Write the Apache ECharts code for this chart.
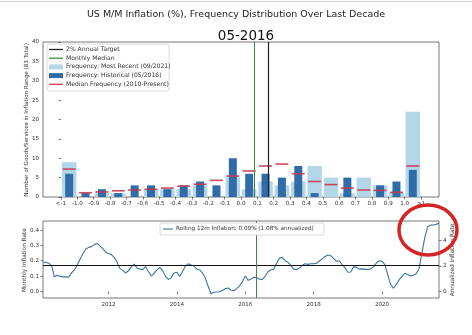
<!DOCTYPE html>
<html><head><meta charset="utf-8">
<script src="https://cdn.jsdelivr.net/npm/echarts@6/dist/echarts.min.js"></script>
<style>html,body{margin:0;padding:0;background:#fff}#c{width:472px;height:335px}</style>
</head><body><div id="c"></div>
<script>
// ---------- data ----------
const binLabels = ['<-1','-1.0','-0.9','-0.8','-0.7','-0.6','-0.5','-0.4','-0.3','-0.2','-0.1','0.0','0.1','0.2','0.3','0.4','0.5','0.6','0.7','0.8','0.9','1.0','>1'];
const recentFreq = [9,0,1,1,0,2,2,2,3,0,5,2,4,3,4,8,5,1,5,3,1,22];
const histFreq   = [6,1,2,1,3,3,2,3,4,3,10,6,6,5,8,1,0,5,0,3,4,7];
const medianFreq = [7.2,1.1,1.3,1.6,1.8,2.0,2.3,2.8,3.3,4.3,5.4,6.7,8.0,8.5,6.0,4.0,3.2,2.3,1.8,1.7,1.2,8.0];
const monthlyMedian = 0.082;   // % m/m
const annualTarget = 0.165;    // % m/m equivalent of 2%/yr
const histDate = 2016 + 4/12;  // May 2016
const yTicksTop = [0,5,10,15,20,25,30,35,40];
const yearTicks = [2012,2014,2016,2018,2020];
const leftTicks = [0,0.1,0.2,0.3,0.4];
const rightTicks = [0,2,4];
const startYear = 2010, startMonth = 2; // Feb 2010
const rolling12m = [
 /*2010 Feb-Dec*/ 0.19,0.19,0.184,0.17,0.095,0.105,0.098,0.095,0.095,0.093,0.12,
 /*2011*/ 0.14,0.17,0.21,0.245,0.275,0.287,0.292,0.305,0.313,0.295,0.28,0.255,
 /*2012*/ 0.247,0.24,0.222,0.19,0.15,0.137,0.12,0.135,0.16,0.178,0.152,0.145,
 /*2013*/ 0.142,0.162,0.13,0.10,0.117,0.14,0.157,0.135,0.098,0.078,0.09,0.12,
 /*2014*/ 0.125,0.098,0.13,0.165,0.18,0.172,0.165,0.145,0.14,0.12,0.085,0.032,
 /*2015*/ -0.015,-0.006,-0.004,-0.002,0.008,0.018,0.022,0.008,0.004,0.018,0.036,0.065,
 /*2016*/ 0.10,0.072,0.08,0.092,0.09,0.08,0.078,0.10,0.128,0.141,0.144,0.184,
 /*2017*/ 0.217,0.222,0.20,0.19,0.17,0.145,0.142,0.152,0.17,0.18,0.176,0.18,
 /*2018*/ 0.18,0.183,0.198,0.212,0.228,0.237,0.233,0.215,0.195,0.20,0.175,0.155,
 /*2019*/ 0.125,0.127,0.16,0.158,0.145,0.147,0.145,0.142,0.147,0.16,0.184,0.20,
 /*2020*/ 0.195,0.175,0.11,0.045,0.022,0.045,0.075,0.098,0.118,0.11,0.10,0.105,
 /*2021 Jan-Sep*/ 0.115,0.15,0.25,0.35,0.42,0.432,0.433,0.437,0.444
];
const titleText = 'US M/M Inflation (%), Frequency Distribution Over Last Decade';
const subTitleText = '05-2016';
const rollingLegend = 'Rolling 12m Inflation: 0.09% (1.08% annualized)';

// ---------- build ----------
const binPos = v => 11 + v * 10; // value (%) -> bin-edge axis position
const lineData = rolling12m.map((v, i) => [startYear + (startMonth - 1 + i) / 12, v]);
const xMin = lineData[0][0], xMax = lineData[lineData.length - 1][0];
const FONT = 'DejaVu Sans';
const tickLbl = {fontSize: 5.6, color: '#333', fontFamily: FONT};
const chart = echarts.init(document.getElementById('c'), null, {renderer: 'canvas'});

const legendItems = [
  {type: 'line', color: '#222', text: '2% Annual Target'},
  {type: 'line', color: '#3d8b3d', text: 'Monthly Median'},
  {type: 'rect', color: '#b3d6e8', text: 'Frequency: Most Recent (09/2021)'},
  {type: 'rect', color: '#2f6ca8', text: 'Frequency: Historical (05/2016)'},
  {type: 'line', color: '#c8394f', text: 'Median Frequency (2010-Present)'}
];
const legendGraphics = [{type: 'rect', shape: {x: 47, y: 44, width: 122, height: 47, r: 2},
  style: {fill: 'rgba(255,255,255,0.85)', stroke: '#d0d0d0', lineWidth: 0.8}, z: 50}];
legendItems.forEach((it, k) => {
  const yc = 49.5 + k * 8.7;
  if (it.type === 'line') legendGraphics.push({type: 'line', shape: {x1: 49, y1: yc, x2: 63, y2: yc}, style: {stroke: it.color, lineWidth: 1.3}, z: 51});
  else legendGraphics.push({type: 'rect', shape: {x: 49, y: yc - 2.5, width: 14, height: 5}, style: {fill: it.color}, z: 51});
  legendGraphics.push({type: 'text', x: 66, y: yc, style: {text: it.text, fontSize: 6.1, fontFamily: FONT, fill: '#333', textVerticalAlign: 'middle'}, z: 51});
});

const option = {
  animation: false,
  backgroundColor: '#fff',
  grid: [
    {left: 43, top: 42, width: 396, height: 155, show: true, borderColor: '#555', borderWidth: 0.8},
    {left: 43, top: 221, width: 396, height: 77, show: true, borderColor: '#555', borderWidth: 0.8}
  ],
  xAxis: [
    {gridIndex: 0, type: 'value', min: -1.1, max: 23.1, axisLine: {show: false}, splitLine: {show: false},
     axisTick: {show: true, customValues: binLabels.map((_, i) => i), length: 2.5, lineStyle: {color: '#444', width: 0.7}},
     axisLabel: Object.assign({customValues: binLabels.map((_, i) => i), formatter: v => binLabels[Math.round(v)], margin: 4}, tickLbl)},
    {gridIndex: 0, type: 'value', min: -1.1, max: 23.1, show: false},
    {gridIndex: 1, type: 'value', min: xMin, max: xMax, axisLine: {show: false}, splitLine: {show: false},
     axisTick: {show: true, customValues: yearTicks, length: 2.5, lineStyle: {color: '#444', width: 0.7}},
     axisLabel: Object.assign({customValues: yearTicks, formatter: v => String(Math.round(v)), margin: 4}, tickLbl)}
  ],
  yAxis: [
    {gridIndex: 0, type: 'value', min: 0, max: 40, axisLine: {show: false}, splitLine: {show: false},
     axisTick: {show: true, customValues: yTicksTop, length: 2.5, lineStyle: {color: '#444', width: 0.7}},
     axisLabel: Object.assign({customValues: yTicksTop, margin: 4}, tickLbl)},
    {gridIndex: 1, type: 'value', min: -0.043, max: 0.459, axisLine: {show: false}, splitLine: {show: false},
     axisTick: {show: true, customValues: leftTicks, length: 2.5, lineStyle: {color: '#444', width: 0.7}},
     axisLabel: Object.assign({customValues: leftTicks, formatter: v => v.toFixed(1), margin: 4}, tickLbl)},
    {gridIndex: 1, type: 'value', position: 'right', min: -0.043 * 12, max: 0.459 * 12, axisLine: {show: false}, splitLine: {show: false},
     axisTick: {show: true, customValues: rightTicks, length: 2.5, lineStyle: {color: '#444', width: 0.7}},
     axisLabel: Object.assign({customValues: rightTicks, formatter: v => String(Math.round(v)), margin: 4}, tickLbl)}
  ],
  title: [
    {text: titleText, left: 'center', top: 5, textStyle: {fontSize: 9.5, fontWeight: 'normal', color: '#222', fontFamily: FONT}},
    {text: subTitleText, left: 241, textAlign: 'center', top: 24, textStyle: {fontSize: 13.5, fontWeight: 'normal', color: '#111', fontFamily: FONT}}
  ],
  series: [
    {type: 'bar', name: 'recent', xAxisIndex: 1, yAxisIndex: 0, barWidth: 14.5,
     data: recentFreq.map((v, i) => [i + 0.5, v]), itemStyle: {color: '#b3d6e8'}, z: 2},
    {type: 'bar', name: 'hist', xAxisIndex: 0, yAxisIndex: 0, barWidth: 8,
     data: histFreq.map((v, i) => [i + 0.5, v]), itemStyle: {color: '#2f6ca8'}, z: 3},
    {type: 'scatter', name: 'median', xAxisIndex: 0, yAxisIndex: 0, symbol: 'rect', symbolSize: [13, 1.6],
     data: medianFreq.map((v, i) => [i + 0.5, v]), itemStyle: {color: '#c8394f', opacity: 0.9}, z: 4,
     markLine: {silent: true, symbol: ['none', 'none'], label: {show: false},
       data: [
         {xAxis: binPos(monthlyMedian), lineStyle: {color: '#3d8b3d', width: 1, type: 'solid'}},
         {xAxis: binPos(annualTarget), lineStyle: {color: '#222', width: 1.2, type: 'solid'}}
       ]}},
    {type: 'line', name: 'rolling', xAxisIndex: 2, yAxisIndex: 1, data: lineData, showSymbol: false,
     lineStyle: {color: '#3b74a6', width: 1.1}, z: 3,
     markLine: {silent: true, symbol: ['none', 'none'], label: {show: false},
       data: [
         {yAxis: annualTarget, lineStyle: {color: '#111', width: 1, type: 'solid'}},
         {xAxis: histDate, lineStyle: {color: '#3d8b3d', width: 1, type: 'solid'}}
       ]}}
  ],
  graphic: [
    {type: 'line', shape: {x1: 0, y1: 1.5, x2: 472, y2: 1.5}, style: {stroke: '#cfcfcf', lineWidth: 1}},
    {type: 'text', x: 27, y: 120, rotation: Math.PI / 2,
     style: {text: 'Number of Goods/Services in Inflation Range (83 Total)', fontSize: 5.6, fontFamily: FONT, fill: '#333', textAlign: 'center', textVerticalAlign: 'middle'}},
    {type: 'text', x: 24, y: 260, rotation: Math.PI / 2,
     style: {text: 'Monthly Inflation Rate', fontSize: 5.8, fontFamily: FONT, fill: '#333', textAlign: 'center', textVerticalAlign: 'middle'}},
    {type: 'text', x: 452, y: 260, rotation: Math.PI / 2,
     style: {text: 'Annualized Inflation Rate', fontSize: 5.8, fontFamily: FONT, fill: '#333', textAlign: 'center', textVerticalAlign: 'middle'}},
    {type: 'rect', shape: {x: 160, y: 223, width: 164, height: 12, r: 2},
     style: {fill: 'rgba(255,255,255,0.9)', stroke: '#d0d0d0', lineWidth: 0.8}, z: 50},
    {type: 'line', shape: {x1: 163, y1: 229, x2: 173, y2: 229}, style: {stroke: '#3b74a6', lineWidth: 1.1}, z: 51},
    {type: 'text', x: 176, y: 229, style: {text: rollingLegend, fontSize: 5.7, fontFamily: FONT, fill: '#333', textVerticalAlign: 'middle'}, z: 51},
    {type: 'ellipse', shape: {cx: 428, cy: 230, rx: 29, ry: 25}, style: {fill: 'none', stroke: '#d42424', lineWidth: 3.5}, z: 100}
  ].concat(legendGraphics)
};
chart.setOption(option);
</script>
</body></html>
